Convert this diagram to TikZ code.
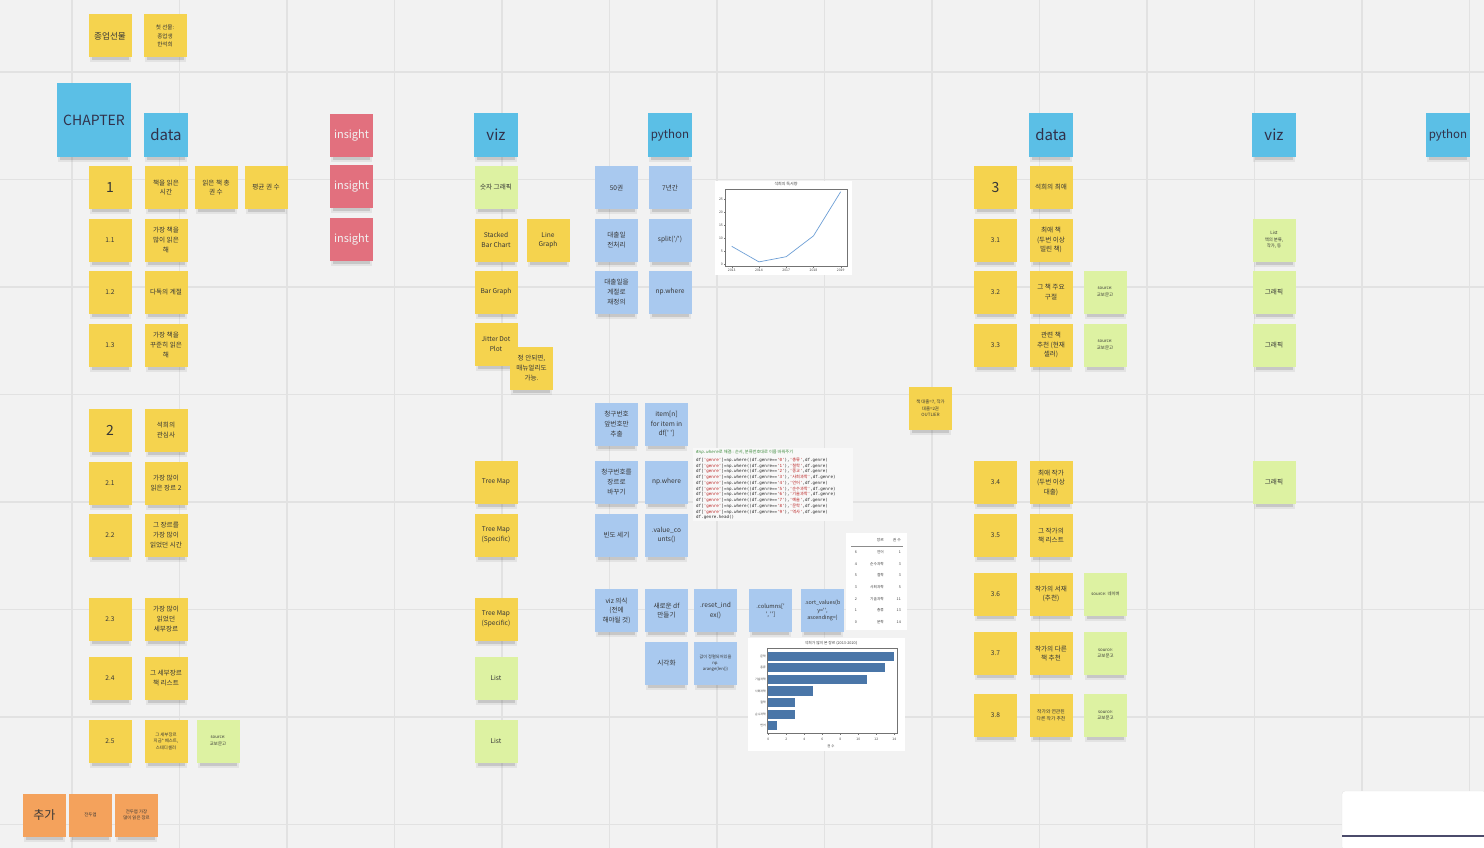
\documentclass[tikz,border=0pt]{standalone}
\usepackage{fontspec}
\setmainfont{Noto Sans CJK KR}
\setmonofont{DejaVu Sans Mono}
\newfontfamily\krfont{Noto Sans CJK KR}

\definecolor{bg}{HTML}{F2F2F2}
\definecolor{gridc}{HTML}{E2E2E2}
\definecolor{yel}{HTML}{F5D34E}
\definecolor{hdr}{HTML}{5BBFE6}
\definecolor{pyb}{HTML}{A9C9EF}
\definecolor{inred}{HTML}{E2707E}
\definecolor{lgreen}{HTML}{DDF2A2}
\definecolor{orng}{HTML}{F4A25C}
\definecolor{ink}{HTML}{363636}
\definecolor{lineblue}{HTML}{6E9FD6}
\definecolor{barc}{HTML}{4A76A8}
\definecolor{strc}{HTML}{BA2121}
\definecolor{cmt}{HTML}{3D8B3D}
\definecolor{codebg}{HTML}{F8F8F8}
\definecolor{panelline}{HTML}{4B4B6B}

% font size with proportional leading
\newcommand\fs[1]{\fontsize{#1}{\fpeval{#1*1.45}}\selectfont}

% sticky note: [options]{name}{x}{y}{size}{text}
\newcommand\stk[6][]{%
  \fill[black,opacity=.06] ({#3-#5/2+1},{#4+#5/2-2}) rectangle ({#3+#5/2-1},{#4+#5/2+5});
  \fill[black,opacity=.12] ({#3-#5/2+3},{#4+#5/2-1}) rectangle ({#3+#5/2-3},{#4+#5/2+3});
  \node[notebox,minimum size=#5,#1] (#2) at (#3,#4) {#6};}

\tikzset{
  notebox/.style={rectangle, inner sep=1pt, align=center, text=ink, font=\fs{6.6}, fill=yel},
  hdrnote/.style={fill=hdr, text=ink!90!blue},
  pynote/.style={fill=pyb},
  grnote/.style={fill=lgreen},
  rdnote/.style={fill=inred, text=white!95!black, font=\fs{11}},
  ornote/.style={fill=orng},
  big/.style={font=\fs{14}},
  small/.style={font=\fs{5.2}},
  tiny/.style={font=\fs{4.4}},
  code/.style={anchor=west, inner sep=0pt, font=\ttfamily\fs{4.2}, text=black!85},
  chart/.style={inner sep=0pt, text=black!75},
}

\begin{document}
\begin{tikzpicture}[x=1pt,y=-1pt]
\useasboundingbox (0,0) rectangle (1484,848);
\fill[bg] (0,0) rectangle (1484,848);

% board grid
\foreach \i in {0,...,13} \draw[gridc,line width=1.2] ({72+107.5*\i},0) -- ({72+107.5*\i},848);
\foreach \j in {0,...,7} \draw[gridc,line width=1.2] (0,{72+107.5*\j}) -- (1484,{72+107.5*\j});

% ---------- title notes ----------
\stk[font=\fs{8.6}]{gift}{110}{36}{43}{종업선물}
\stk[font=\fs{5.6}]{gifttwo}{165}{36}{43}{첫 선물:\\종업생\\한석희}
\stk[hdrnote,font=\fs{14}]{chapter}{94}{120}{74}{CHAPTER}

% ---------- headers ----------
\stk[hdrnote,font=\fs{15}]{hdata}{166}{135}{44}{data}
\stk[rdnote]{insa}{351.5}{135.5}{43}{insight}
\stk[rdnote]{insb}{351.5}{186.5}{43}{insight}
\stk[rdnote]{insc}{351.5}{239.5}{43}{insight}
\stk[hdrnote,font=\fs{15}]{hviz}{496}{135}{44}{viz}
\stk[hdrnote,font=\fs{11.5}]{hpy}{670}{135}{44}{python}
\stk[hdrnote,font=\fs{15}]{hdatab}{1051}{135}{44}{data}
\stk[hdrnote,font=\fs{15}]{hvizb}{1274}{135}{44}{viz}
\stk[hdrnote,font=\fs{11.5}]{hpyb}{1448}{135}{44}{python}

% ---------- chapter 1 & 2 ----------
\stk[big]{c1}{110}{187.5}{43}{1}
\stk{c1a}{166}{187.5}{43}{책을 읽은\\시간}
\stk{c1b}{216}{187.5}{43}{읽은 책 총\\권 수}
\stk{c1c}{266}{187.5}{43}{평균 권 수}
\stk{c11}{110}{240}{43}{1.1}
\stk{c11a}{166}{240}{43}{가장 책을\\많이 읽은\\해}
\stk{c12}{110}{292}{43}{1.2}
\stk{c12a}{166}{292}{43}{다독의 계절}
\stk{c13}{110}{345}{43}{1.3}
\stk{c13a}{166}{345}{43}{가장 책을\\꾸준히 읽은\\해}

\stk[big]{c2}{110}{430}{43}{2}
\stk{c2a}{166}{430}{43}{석희의\\관심사}
\stk{c21}{110}{483}{43}{2.1}
\stk{c21a}{166}{483}{43}{가장 많이\\읽은 장르 2}
\stk{c22}{110}{535}{43}{2.2}
\stk{c22a}{166}{535}{43}{그 장르를\\가장 많이\\읽었던 시간}
\stk{c23}{110}{619}{43}{2.3}
\stk{c23a}{166}{619}{43}{가장 많이\\읽었던\\세부장르}
\stk{c24}{110}{678}{43}{2.4}
\stk{c24a}{166}{678}{43}{그 세부장르\\책 리스트}
\stk{c25}{110}{741}{43}{2.5}
\stk[tiny]{c25a}{166}{741}{43}{그 세부장르\\지금* 베스트,\\스테디셀러}
\stk[grnote,tiny]{c25s}{218}{741}{43}{source:\\교보문고}

% ---------- viz column ----------
\stk[grnote]{v0}{496}{187.5}{43}{숫자 그래픽}
\stk{v1}{496}{240}{43}{Stacked\\Bar Chart}
\stk{v1b}{548}{240}{43}{Line\\Graph}
\stk{v2}{496}{292}{43}{Bar Graph}
\stk{v3}{496}{344}{43}{Jitter Dot\\Plot}
\stk{v3b}{531.5}{368}{43}{정 안되면,\\매뉴얼리도\\가능.}
\stk{v4}{496}{482}{43}{Tree Map}
\stk{v5}{496}{535}{43}{Tree Map\\(Specific)}
\stk{v6}{496}{619}{43}{Tree Map\\(Specific)}
\stk[grnote]{v7}{496}{678}{43}{List}
\stk[grnote]{v8}{496}{741}{43}{List}

% ---------- python column ----------
\stk[pynote]{p1}{616.5}{187.5}{43}{50권}
\stk[pynote]{p1b}{670}{187.5}{43}{7년간}
\stk[pynote]{p2}{616.5}{240}{43}{대출일\\전처리}
\stk[pynote]{p2b}{670}{240}{43}{split(\textquotesingle/\textquotesingle)}
\stk[pynote]{p3}{616.5}{292}{43}{대출일을\\계절로\\재정의}
\stk[pynote]{p3b}{670}{292}{43}{np.where}
\stk[pynote]{p4}{616.5}{424}{43}{청구번호\\앞번호만\\추출}
\stk[pynote]{p4b}{666.5}{424}{43}{item[n]\\for item in\\df[\textquotesingle\ \textquotesingle]}
\stk[pynote]{p5}{616.5}{482}{43}{청구번호를\\장르로\\바꾸기}
\stk[pynote]{p5b}{666.5}{482}{43}{np.where}
\stk[pynote]{p6}{616.5}{535}{43}{빈도 세기}
\stk[pynote]{p6b}{666.5}{535}{43}{.value\_co\\unts()}
\stk[pynote]{p7}{616.5}{610.5}{43}{viz 의식\\(전에\\해야될 것)}
\stk[pynote]{p7b}{666.5}{610.5}{43}{새로운 df\\만들기}
\stk[pynote]{p7c}{715.5}{610.5}{43}{.reset\_ind\\ex()}
\stk[pynote,font=\fs{5.8}]{p7d}{770.5}{610.5}{43}{.columns[\textquotesingle\\\textquotesingle, \textquotesingle\textquotesingle]}
\stk[pynote,font=\fs{5.4}]{p7e}{822.5}{610.5}{43}{.sort\_values(b\\y=\textquotesingle\textquotesingle,\\ascending=)}
\stk[pynote]{p8}{666.5}{663.5}{43}{시각화}
\stk[pynote,font=\fs{4.2}]{p8b}{715.5}{663.5}{43}{값이 정렬되어있을\\np.\\arange(len())}

% ---------- chapter 3 ----------
\stk[big]{c3}{995.5}{187.5}{43}{3}
\stk{c3a}{1051}{187.5}{43}{석희의 최애}
\stk{c31}{995.5}{240}{43}{3.1}
\stk{c31a}{1051}{240}{43}{최애 책\\(두번 이상\\빌린 책)}
\stk{c32}{995.5}{292}{43}{3.2}
\stk{c32a}{1051}{292}{43}{그 책 주요\\구절}
\stk[grnote,tiny]{c32s}{1105}{292}{43}{source:\\교보문고}
\stk{c33}{995.5}{345}{43}{3.3}
\stk{c33a}{1051}{345}{43}{관련 책\\추천 (현재\\셀러)}
\stk[grnote,tiny]{c33s}{1105}{345}{43}{source:\\교보문고}
\stk[tiny]{outl}{930.5}{408.5}{43}{책 대출=7, 작가\\대출=2권\\OUTLIER}
\stk{c34}{995.5}{482.5}{43}{3.4}
\stk{c34a}{1051}{482.5}{43}{최애 작가\\(두번 이상\\대출)}
\stk{c35}{995.5}{535.5}{43}{3.5}
\stk{c35a}{1051}{535.5}{43}{그 작가의\\책 리스트}
\stk{c36}{995.5}{594}{43}{3.6}
\stk{c36a}{1051}{594}{43}{작가의 서재\\(추천)}
\stk[grnote,tiny]{c36s}{1105.5}{594}{43}{source: 네이버}
\stk{c37}{995.5}{653.5}{43}{3.7}
\stk{c37a}{1051}{653.5}{43}{작가의 다른\\책 추천}
\stk[grnote,tiny]{c37s}{1105.5}{653.5}{43}{source:\\교보문고}
\stk{c38}{995.5}{715.5}{43}{3.8}
\stk[font=\fs{4.8}]{c38a}{1051}{715.5}{43}{작가와 연관된\\다른 작가 추천}
\stk[grnote,tiny]{c38s}{1105.5}{715.5}{43}{source:\\교보문고}

% ---------- right viz column ----------
\stk[grnote,font=\fs{4.4}]{rv1}{1274}{240}{43}{List\\책의 분류,\\작가, 등}
\stk[grnote]{rv2}{1274}{292}{43}{그래픽}
\stk[grnote]{rv3}{1274}{345}{43}{그래픽}
\stk[grnote]{rv4}{1274}{482}{43}{그래픽}

% ---------- extra ----------
\stk[ornote,font=\fs{12}]{ext}{44.5}{815}{43}{추가}
\stk[ornote,tiny]{exta}{90.5}{815}{43}{전두엽}
\stk[ornote,tiny]{extb}{136.5}{815}{43}{전두엽 가장\\많이 읽은 장르}

% ---------- line chart: reading per year ----------
\fill[white] (715,181) rectangle (852,275);
\node[chart,font=\fs{4}] (lct) at (786,184.5) {석희의 독서량};
\draw[black!55,line width=.4] (725,189) rectangle (847,266);
\foreach \v in {0,5,...,25} {
  \draw[black!55,line width=.3] (725,{264.5-2.6*\v}) -- ++(-1.5,0);
  \node[chart,anchor=east,font=\fs{3.4}] (ly\v) at (723,{264.5-2.6*\v}) {\v};
}
\foreach \yr [count=\i from 0] in {2013,2014,2017,2018,2019} {
  \draw[black!55,line width=.3] ({731.7+27.25*\i},266) -- ++(0,1.5);
  \node[chart,font=\fs{3.4}] (lx\i) at ({731.7+27.25*\i},270.5) {\yr};
}
\draw[lineblue,line width=.7,line join=round] (731.7,246.3) -- (758.95,261.9) -- (786.2,256.7) -- (813.45,235.9) -- (840.7,191.7);

% ---------- code cell ----------
\fill[codebg] (693,448) rectangle (853,521);
\node[code,text=cmt] (cm) at (696,452) {{\itshape\#np.where}{\krfont\fs{4.2}로 해결:: 순서, 분류번호대로 이름 바꿔주기}};
\foreach \d/\k [count=\i from 0] in {0/총류,1/철학,2/종교,3/사회과학,4/언어,5/순수과학,6/기술과학,7/예술,8/문학,9/역사} {
  \node[code] (cl\i) at (696,{460+5.75*\i}) {df[\textcolor{strc}{'genre'}]=np.where((df.genre==\textcolor{strc}{'\d'}),\textcolor{strc}{'{\krfont\fs{4.2}\k}'},df.genre)};
}
\node[code] (cl10) at (696,517.5) {df.genre.head()};

% ---------- count table ----------
\fill[white] (846,533) rectangle (907,630);
\node[chart,anchor=east,font=\fs{3.8}] (th1) at (884,540) {장르};
\node[chart,anchor=east,font=\fs{3.8}] (th2) at (901,540) {권 수};
\draw[black!45,line width=.4] (851,546) -- (903,546);
\foreach \ix/\g/\v [count=\i from 0] in {6/언어/1,4/순수과학/3,5/철학/3,3/사회과학/5,2/기술과학/11,1/총류/13,0/문학/14} {
  \node[chart,font=\fs{3.7}] (ti\i) at (856,{552+11.7*\i}) {\ix};
  \node[chart,anchor=east,font=\fs{3.7}] (tg\i) at (884,{552+11.7*\i}) {\g};
  \node[chart,anchor=east,font=\fs{3.7}] (tv\i) at (901,{552+11.7*\i}) {\v};
}

% ---------- bar chart: genres ----------
\fill[white] (748,638) rectangle (905,751);
\node[chart,font=\fs{3.8}] (bct) at (831,643.5) {석희가 많이 본 장르 (2013-2020)};
\draw[black!55,line width=.4] (767.5,648) rectangle (897,733);
\foreach \g/\v [count=\i from 0] in {문학/14,총류/13,기술과학/11,사회과학/5,철학/3,순수과학/3,언어/1} {
  \fill[barc] (768.3,{656.3+11.57*\i-4.6}) rectangle ({768.3+9*\v},{656.3+11.57*\i+4.6});
  \node[chart,anchor=east,font=\fs{2.9}] (bl\i) at (766,{656.3+11.57*\i}) {\g};
}
\foreach \t in {0,2,...,14} {
  \draw[black!55,line width=.3] ({768.3+9*\t},733) -- ++(0,1.5);
  \node[chart,font=\fs{3.3}] (bt\t) at ({768.3+9*\t},739.5) {\t};
}
\node[chart,font=\fs{3.4}] (bxl) at (831,746.5) {권 수};

% ---------- corner panel ----------
\fill[white,draw=black!10,rounded corners=3] (1342,850) -- (1342,791) -- (1486,791) -- (1486,850) -- cycle;
\draw[panelline,line width=1.2] (1342,836) -- (1484,836);
\end{tikzpicture}
\end{document}
